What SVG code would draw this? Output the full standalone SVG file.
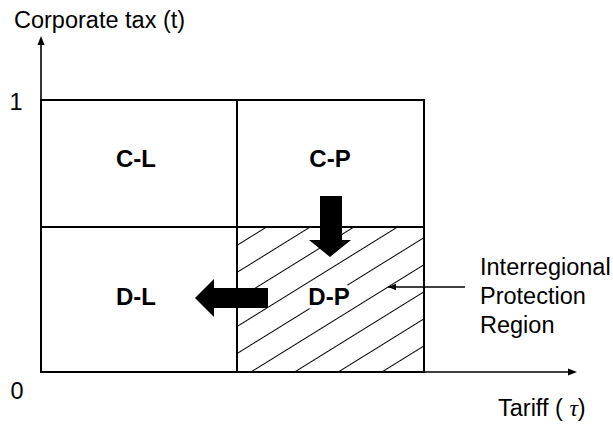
<svg xmlns="http://www.w3.org/2000/svg" width="613" height="425" viewBox="0 0 613 425">
<style>
.cell{fill:none;stroke:#000;stroke-width:2}
.axis{fill:none;stroke:#000;stroke-width:1.6}
.lbl{font-family:"Liberation Sans",Arial,sans-serif;font-weight:bold;font-size:24px;text-anchor:middle;fill:#000}
.txt{font-family:"Liberation Sans",Arial,sans-serif;font-size:23.5px;fill:#000}
.big{fill:#000;stroke:none}
</style>
<defs>
<pattern id="hatch" patternUnits="userSpaceOnUse" width="10" height="23" patternTransform="translate(250,372) rotate(-31.8)">
<line x1="-1" y1="0.5" x2="11" y2="0.5" stroke="#000" stroke-width="1"/>
</pattern>
<marker id="ah" viewBox="0 0 10 10" refX="10" refY="5" markerWidth="8" markerHeight="8" markerUnits="userSpaceOnUse" orient="auto">
<path d="M0,1 L10,5 L0,9 Z" fill="#000"/>
</marker>
</defs>
<rect width="613" height="425" fill="#fff"/>
<g id="hatching">
<rect x="238" y="228" width="185" height="143" fill="url(#hatch)"/>
</g>
<g id="axes">
<line class="axis" x1="41" y1="372" x2="41" y2="44"/>
<path class="big" d="M41,36 L37.5,45 L44.5,45 Z"/>
<line class="axis" x1="41" y1="372" x2="569" y2="372"/>
<path class="big" d="M577,372 L568,368.5 L568,375.5 Z"/>
<text class="txt" x="14" y="28">Corporate tax (t)</text>
<text class="txt" x="498" y="416">Tariff ( <tspan font-family="'Liberation Serif',serif" font-style="italic">τ</tspan>)</text>
<text class="txt" x="16" y="110" text-anchor="middle">1</text>
<text class="txt" x="17" y="399" text-anchor="middle">0</text>
</g>
<g id="node-CL">
<rect class="cell" x="41" y="100" width="196" height="127"/>
<text class="lbl" x="136" y="167">C-L</text>
</g>
<g id="node-CP">
<rect class="cell" x="237" y="100" width="187" height="127"/>
<text class="lbl" x="330" y="167">C-P</text>
</g>
<g id="node-DL">
<rect class="cell" x="41" y="227" width="196" height="145"/>
<text class="lbl" x="136" y="305">D-L</text>
</g>
<g id="node-DP">
<rect class="cell" x="237" y="227" width="187" height="145"/>
<text class="lbl" x="329" y="305" stroke="#fff" stroke-width="7" paint-order="stroke" stroke-linejoin="round">D-P</text>
</g>
<g id="node-label">
<text class="txt" x="480" y="275">Interregional</text>
<text class="txt" x="480" y="304">Protection</text>
<text class="txt" x="480" y="333">Region</text>
</g>
<g id="connectors">
<path class="big" d="M320,196 L342,196 L342,240 L351,240 L330,257 L309,240 L320,240 Z"/>
<path class="big" d="M268,288 L268,308 L214,308 L214,317 L195,298 L214,279 L214,288 Z"/>
<line x1="465" y1="287" x2="388" y2="287" stroke="#000" stroke-width="1.5" marker-end="url(#ah)"/>
</g>
</svg>
